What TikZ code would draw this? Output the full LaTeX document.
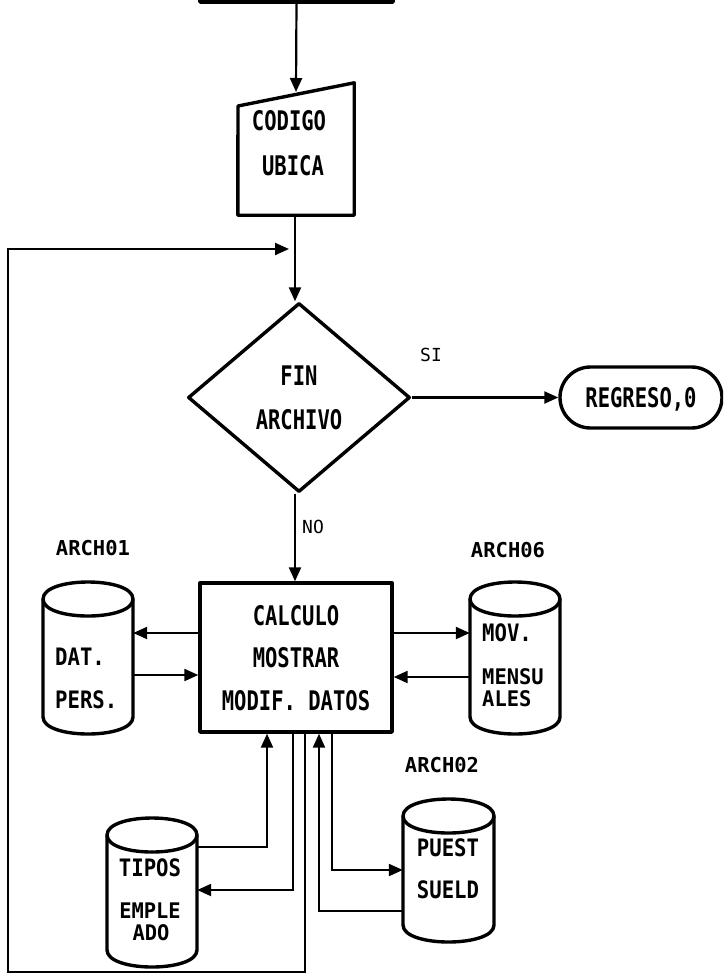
\documentclass[tikz,border=0pt]{standalone}
\usepackage{fontspec}
\usetikzlibrary{shapes.geometric,shapes.misc,arrows.meta,fit}
\newfontfamily\fbig{DejaVu Sans Mono}[FakeStretch=0.76]
\newfontfamily\fcyl{DejaVu Sans Mono}[FakeStretch=0.86]
\newfontfamily\fsm{DejaVu Sans Mono}[FakeStretch=0.95]
\newfontfamily\flab{DejaVu Sans Mono}
\newcommand\dbcyl[5]{%
  \node[inner sep=0pt, fit={(#2,#3) (#4,#5)}] (#1) {};
  \draw[shp] (#2,#3+17) -- (#2,#5-17) .. controls (#2,#5+5.67) and (#4,#5+5.67) .. (#4,#5-17)
     -- (#4,#3+17) .. controls (#4,#3-5.67) and (#2,#3-5.67) .. cycle;
  \draw[shp] (#2,#3+17) .. controls (#2,#3+39.67) and (#4,#3+39.67) .. (#4,#3+17);
}
\begin{document}
\begin{tikzpicture}[x=1pt,y=-1pt,
  shp/.style={draw, line width=3.4pt, line join=round},
  con/.style={line width=2.2pt, line join=miter},
  arr/.style={con, -{Triangle[length=14pt,width=12pt]}},
  big/.style={font=\fbig\bfseries\fontsize{27}{44}\selectfont, text depth=0pt, inner sep=0pt},
  bigp/.style={font=\fbig\bfseries\fontsize{27}{42.5}\selectfont, text depth=0pt, inner sep=0pt},
  cylt/.style={font=\fcyl\bfseries\fontsize{24}{24}\selectfont, text depth=0pt, inner sep=0pt},
  cyls/.style={font=\fsm\bfseries\fontsize{21.5}{22}\selectfont, text depth=0pt, inner sep=0pt},
  lab/.style={font=\flab\bfseries\fontsize{20.5}{22}\selectfont, text depth=0pt, inner sep=0pt},
  yn/.style={font=\flab\fontsize{18}{20}\selectfont, text depth=0pt, inner sep=0pt}]
\clip (0,0) rectangle (723,974);
\useasboundingbox (0,0) rectangle (723,974);

% top box (cut off)
\node[shp, inner sep=0pt, fit={(200,-40) (393,2)}] (top) {};

% manual input
\node[inner sep=0pt, fit={(238,83) (354,215)}] (mi) {};
\draw[shp] (mi.south west) -- (238,106) -- (mi.north east) -- (mi.south east) -- cycle;
\node[big] (mit1) at (289,120) {CODIGO};
\node[big] (mit2) at (293,165) {UBICA};
\coordinate (miin) at (296,92);

% decision
\node[shp, diamond, minimum width=222pt, minimum height=189pt, inner sep=0pt, big, align=center] (dec) at (299,397.5) {FIN\\ARCHIVO};

% terminal
\node[shp, rounded rectangle, minimum width=162pt, minimum height=61pt, inner sep=0pt, big] (term) at (641,397.5) {REGRESO,0};

% process
\node[shp, rectangle, minimum width=192pt, minimum height=149pt, bigp, align=center] (proc) at (296,657.5) {CALCULO\\MOSTRAR\\MODIF. DATOS};

% cylinders
\dbcyl{c1}{43}{582}{133}{734}
\dbcyl{c6}{470}{582}{560}{734}
\dbcyl{ct}{107}{818}{197}{967}
\dbcyl{cp}{403}{799}{494}{942}

\node[lab] (l1) at (93,548) {ARCH01};
\node[lab] (l6) at (508,550) {ARCH06};
\node[lab] (l2) at (442,765) {ARCH02};

\node[cylt, anchor=west] (c1a) at (55,657) {DAT.};
\node[cylt, anchor=west] (c1b) at (55,700) {PERS.};
\node[cylt, anchor=west] (c6a) at (482,633) {MOV.};
\node[cyls, anchor=west] (c6b) at (482,677) {MENSU};
\node[cyls, anchor=west] (c6c) at (482,699) {ALES};
\node[cylt] (cta) at (150,868) {TIPOS};
\node[cyls] (ctb) at (150,911) {EMPLE};
\node[cyls] (ctc) at (151,933) {ADO};
\node[cylt] (cpa) at (448,848) {PUEST};
\node[cylt] (cpb) at (448,890) {SUELD};

\node[yn] (si) at (431,355) {SI};
\node[yn] (no) at (313,527) {NO};

% helper coordinates
\coordinate (h633) at (0,633);
\coordinate (h675) at (0,675);
\coordinate (h677) at (0,677);
\coordinate (b1) at (267,847);
\coordinate (b2) at (293,890);
\coordinate (b3) at (305,972);
\coordinate (b4) at (8,972);
\coordinate (b5) at (8,249);
\coordinate (join) at (289,249);
\coordinate (b6) at (319,911);
\coordinate (b7) at (332,870);

% connectors
\draw[arr] (top.south |- 0,2) -- (miin);
\draw[arr] (mi.south -| 295,0) -- (dec.north -| 295,0);
\draw[arr] (dec.east) -- (term.west);
\draw[arr] (dec.south -| 295,0) -- (proc.north -| 295,0);

\draw[arr] (proc.west |- h633) -- (c1.east |- h633);
\draw[arr] (c1.east |- h675) -- (proc.west |- h675);
\draw[arr] (proc.east |- h633) -- (c6.west |- h633);
\draw[arr] (c6.west |- h677) -- (proc.east |- h677);

\draw[arr] (ct.east |- b1) -- (b1) -- (b1 |- proc.south);
\draw[arr] (b2 |- proc.south) -- (b2) -- (ct.east |- b2);
\draw[arr] (b3 |- proc.south) -- (b3) -- (b4) -- (b5) -- (join);
\draw[arr] (cp.west |- b6) -- (b6) -- (b6 |- proc.south);
\draw[arr] (b7 |- proc.south) -- (b7) -- (cp.west |- b7);
\end{tikzpicture}
\end{document}
